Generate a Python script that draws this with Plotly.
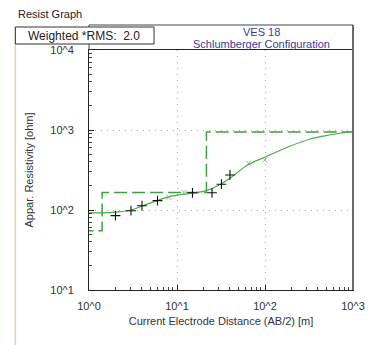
import plotly.graph_objects as go

# ---- data ----
model_ab2 = [0.5, 1.41, 1.41, 21.6, 21.6, 1000]
model_rho = [55, 55, 166, 166, 945, 945]

curve_ab2 = [1.0, 1.41, 2.0, 3.03, 4.06, 6.17, 8.25, 14.8, 21.6, 31.4, 40.3, 63.7, 100.7, 195, 325, 535, 1000]
curve_rho = [92, 92, 94, 100, 113, 133, 147, 162, 175, 210, 251, 365, 460, 631, 772, 866, 958]

obs_ab2 = [2.0, 3.0, 4.0, 6.0, 15.0, 25.0, 32.0, 40.0]
obs_rho = [85, 98, 113, 131, 164, 164, 210, 274]

masked_ab2 = [8.1, 12.0, 65.0, 100.0]
masked_rho = [144, 166, 384, 422]

x_tickvals = [1, 10, 100, 1000]
x_ticktext = ["10^0", "10^1", "10^2", "10^3"]
y_tickvals = [10, 100, 1000, 10000]
y_ticktext = ["10^1", "10^2", "10^3", "10^4"]

# ---- geometry helpers (pixels -> paper) ----
L, R, T, B = 89, 365, 50, 290
W, H = 377, 345
def xp(px): return (px - L) / (R - L)
def yp(py): return (B - py) / (B - T)

FONT = "Liberation Sans, Arial, sans-serif"
GREEN = "#3f9f3f"

fig = go.Figure()
fig.add_trace(go.Scatter(x=model_ab2, y=model_rho, mode="lines",
                         line=dict(color=GREEN, width=1.5, dash="13px,5px"),
                         showlegend=False, hoverinfo="skip"))
fig.add_trace(go.Scatter(x=curve_ab2, y=curve_rho, mode="lines",
                         line=dict(color="#4aaa4a", width=1.2, shape="spline"),
                         showlegend=False))
fig.add_trace(go.Scatter(x=masked_ab2, y=masked_rho, mode="markers",
                         marker=dict(symbol="x-thin", size=5, line=dict(color="#94b294", width=1)),
                         showlegend=False))
fig.add_trace(go.Scatter(x=obs_ab2, y=obs_rho, mode="markers",
                         marker=dict(symbol="cross-thin", size=7, line=dict(color="#111111", width=1.1)),
                         showlegend=False))

minor_x = [m * 10**d for d in range(0, 3) for m in range(2, 10)]
minor_y = [m * 10**d for d in range(1, 4) for m in range(2, 10)]

fig.update_xaxes(type="log", range=[0, 3], tickvals=x_tickvals, ticktext=x_ticktext,
                 ticks="inside", ticklen=5, tickcolor="#222", showline=True, linecolor="#222",
                 linewidth=1, mirror=True, ticklabelstandoff=6,
                 minor=dict(tickvals=minor_x, ticks="inside", ticklen=3, tickcolor="#444", showgrid=False),
                 showgrid=True, gridcolor="#aaaaaa", griddash="1px,5px", gridwidth=1,
                 tickfont=dict(family=FONT, size=11, color="#333"),
                 title=dict(text="Current Electrode Distance (AB/2) [m]", standoff=6,
                            font=dict(family=FONT, size=11, color="#333")),
                 zeroline=False)
fig.update_yaxes(type="log", range=[1, 4], tickvals=y_tickvals, ticktext=y_ticktext,
                 ticks="inside", ticklen=5, tickcolor="#222", showline=True, linecolor="#222",
                 linewidth=1, mirror=True,
                 minor=dict(tickvals=minor_y, ticks="inside", ticklen=3, tickcolor="#444", showgrid=False),
                 showgrid=True, gridcolor="#aaaaaa", griddash="1px,5px", gridwidth=1,
                 tickfont=dict(family=FONT, size=11, color="#333"), ticklabelstandoff=12,
                 title=dict(text="Appar. Resistivity [ohm]", standoff=14,
                            font=dict(family=FONT, size=11, color="#333")),
                 zeroline=False)

shapes = []
# right frame (thicker gray)
shapes.append(dict(type="line", xref="paper", yref="paper", x0=1, x1=1, y0=0, y1=yp(25),
                   line=dict(color="#6a6a6a", width=2)))
# title box
shapes.append(dict(type="line", xref="paper", yref="paper", x0=0, x1=1, y0=yp(25), y1=yp(25),
                   line=dict(color="#444", width=1)))
shapes.append(dict(type="line", xref="paper", yref="paper", x0=0, x1=0, y0=1, y1=yp(25),
                   line=dict(color="#444", width=1)))
# window left border (tan)
shapes.append(dict(type="line", xref="paper", yref="paper", x0=xp(12), x1=xp(12), y0=yp(345), y1=yp(27),
                   line=dict(color="#e3d3a3", width=1.5)))
# RMS box
shapes.append(dict(type="rect", xref="paper", yref="paper", x0=xp(12), x1=xp(157), y0=yp(44), y1=yp(27),
                   line=dict(color="#333", width=1), fillcolor="white", layer="above"))
fig.update_layout(shapes=shapes)

ann = [
    dict(text="Resist Graph", x=xp(13), y=yp(14), xanchor="left", yanchor="middle",
         font=dict(family=FONT, size=11, color="#222")),
    dict(text="Weighted *RMS:  2.0", x=xp(84), y=yp(35.5), xanchor="center", yanchor="middle",
         font=dict(family=FONT, size=12, color="#222")),
    dict(text="VES 18", x=xp(269), y=yp(32), xanchor="center", yanchor="middle",
         font=dict(family=FONT, size=11, color="#3a3a9a")),
    dict(text="Schlumberger Configuration", x=xp(269), y=yp(44), xanchor="center", yanchor="middle",
         font=dict(family=FONT, size=11, color="#3a3a9a")),
]
for a in ann:
    a.update(xref="paper", yref="paper", showarrow=False)
fig.update_layout(annotations=ann)

fig.update_layout(width=W, height=H, margin=dict(l=L, r=W - R, t=T, b=H - B),
                  paper_bgcolor="white", plot_bgcolor="white")
fig.write_html("out.html")
